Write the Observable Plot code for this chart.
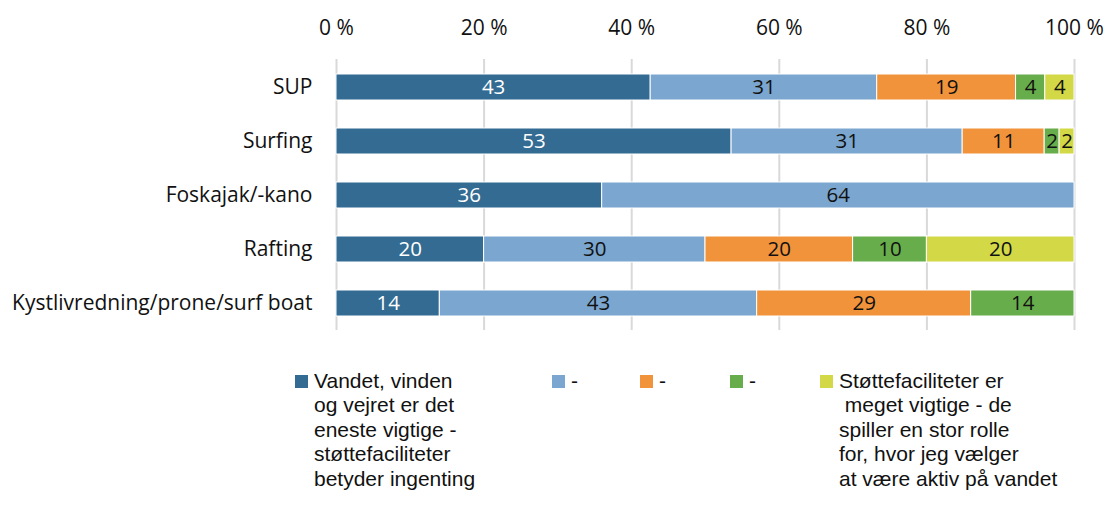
<!DOCTYPE html>
<html>
<head>
<meta charset="utf-8">
<script src="https://cdn.jsdelivr.net/npm/d3@7"></script>
<script src="https://cdn.jsdelivr.net/npm/@observablehq/plot@0.6"></script>
<style>
  body { margin: 0; background: #fff; font-family: "Open Sans", sans-serif; }
  #chart { position: relative; width: 1105px; }
  .legend { position: relative; height: 160px; font-family: "Liberation Sans", Arial, sans-serif; font-size: 21px; color: #111; line-height: 24.4px; }
  .item { position: absolute; top: 29px; display: flex; align-items: flex-start; }
  .sw { width: 13px; height: 13px; margin-top: 6px; margin-right: 6px; flex: none; }
</style>
</head>
<body>
<div id="chart"></div>
<script>
const categories = ["SUP", "Surfing", "Foskajak/-kano", "Rafting", "Kystlivredning/prone/surf boat"];
const seriesNames = ["s1", "s2", "s3", "s4", "s5"];
const colors = ["#336b93", "#7aa6cf", "#f0933a", "#68ad4c", "#d2d846"];
const legendLabels = [
  "Vandet, vinden<br>og vejret er det<br>eneste vigtige -<br>støttefaciliteter<br>betyder ingenting",
  "-", "-", "-",
  "Støttefaciliteter er<br>&nbsp;meget vigtige - de<br>spiller en stor rolle<br>for, hvor jeg vælger<br>at være aktiv på vandet"
];
const s1 = [43, 53, 36, 20, 14];
const s2 = [31, 31, 64, 30, 43];
const s3 = [19, 11, 0, 20, 29];
const s4 = [4, 2, 0, 10, 14];
const s5 = [4, 2, 0, 20, 0];
const xTicks = [0, 0.2, 0.4, 0.6, 0.8, 1];

const seriesValues = [s1, s2, s3, s4, s5];
const data = [];
categories.forEach((c, i) => {
  seriesValues.forEach((vals, j) => {
    if (vals[i] > 0) data.push({cat: c, series: seriesNames[j], value: vals[i], idx: j});
  });
});

const stackOpts = {x: "value", y: "cat", z: "series", offset: "normalize", order: seriesNames};

const plot = Plot.plot({
  width: 1105,
  height: 340,
  marginLeft: 336,
  marginRight: 31,
  marginTop: 59,
  marginBottom: 10,
  style: {fontFamily: "'Open Sans', sans-serif", fontSize: "21px", color: "#111"},
  x: {domain: [0, 1], axis: "top", ticks: xTicks, tickSize: 0, tickPadding: 25,
      tickFormat: d => Math.round(d * 100) + " %", label: null, fontSize: 22},
  y: {domain: categories, paddingInner: 0.52, paddingOuter: 0.26, tickSize: 0, tickPadding: 24, label: null},
  color: {domain: seriesNames, range: colors},
  marks: [
    Plot.ruleX(xTicks, {stroke: "#d9d9d9", strokeWidth: 2}),
    Plot.barX(data, Plot.stackX({...stackOpts, fill: "series", stroke: "#fff", strokeWidth: 1})),
    Plot.text(data, Plot.stackX({...stackOpts, text: d => String(d.value),
      fill: d => d.idx === 0 ? "#fff" : "#111", fontSize: 20.5}))
  ]
});
document.getElementById("chart").appendChild(plot);

const legendX = [295, 552, 640, 730, 820];
const leg = document.createElement("div");
leg.className = "legend";
seriesNames.forEach((s, i) => {
  const it = document.createElement("div");
  it.className = "item";
  it.style.left = legendX[i] + "px";
  it.innerHTML = `<div class="sw" style="background:${colors[i]}"></div><div>${legendLabels[i]}</div>`;
  leg.appendChild(it);
});
document.getElementById("chart").appendChild(leg);
</script>
</body>
</html>
